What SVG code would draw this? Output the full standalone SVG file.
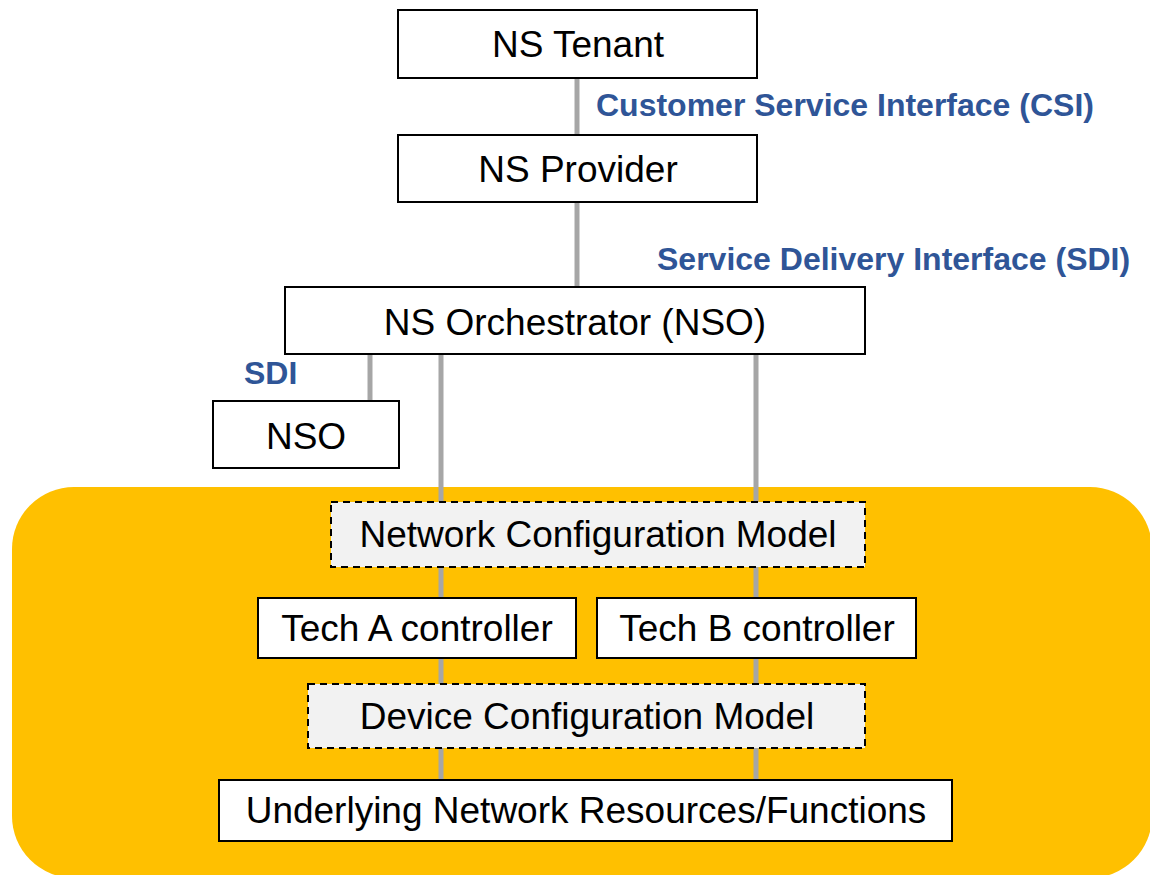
<svg xmlns="http://www.w3.org/2000/svg" width="1150" height="875" viewBox="0 0 1150 875">
<style>
.box{fill:#fff;stroke:#000;stroke-width:2}
.dash{fill:#f2f2f2;stroke:#000;stroke-width:2;stroke-dasharray:7 5}
.t{font-family:"Liberation Sans",Arial,sans-serif;font-size:37px;fill:#000;text-anchor:middle}
.lbl{font-family:"Liberation Sans",Arial,sans-serif;font-size:32px;font-weight:bold;fill:#2f5597}
.c{stroke:#a6a6a6;stroke-width:5;fill:none}
</style>
<rect id="domain" x="12" y="487" width="1140" height="391" rx="62" ry="62" fill="#ffc000"/>
<g id="connectors">
<line class="c" x1="577" y1="78" x2="577" y2="135"/>
<line class="c" x1="577" y1="202" x2="577" y2="287"/>
<line class="c" x1="370" y1="354" x2="370" y2="401"/>
<line class="c" x1="441" y1="354" x2="441" y2="780"/>
<line class="c" x1="756" y1="354" x2="756" y2="780"/>
</g>
<g id="labels">
<text class="lbl" x="596" y="116">Customer Service Interface (CSI)</text>
<text class="lbl" x="657" y="270">Service Delivery Interface (SDI)</text>
<text class="lbl" x="244" y="384">SDI</text>
</g>
<g id="tenant"><rect class="box" x="398" y="10" width="359" height="68"/><text class="t" x="578" y="57">NS Tenant</text></g>
<g id="provider"><rect class="box" x="398" y="135" width="359" height="67"/><text class="t" x="578" y="182">NS Provider</text></g>
<g id="orchestrator"><rect class="box" x="285" y="287" width="580" height="67"/><text class="t" x="575" y="335">NS Orchestrator (NSO)</text></g>
<g id="nso"><rect class="box" x="213" y="401" width="186" height="67"/><text class="t" x="306" y="449">NSO</text></g>
<g id="ncm"><rect class="dash" x="331" y="502" width="534" height="65"/><text class="t" x="598" y="547">Network Configuration Model</text></g>
<g id="techA"><rect class="box" x="258" y="598" width="318" height="60"/><text class="t" x="417" y="641">Tech A controller</text></g>
<g id="techB"><rect class="box" x="597" y="598" width="319" height="60"/><text class="t" x="757" y="641">Tech B controller</text></g>
<g id="dcm"><rect class="dash" x="308" y="684" width="557" height="64"/><text class="t" x="587" y="729">Device Configuration Model</text></g>
<g id="underlying"><rect class="box" x="219" y="780" width="733" height="61"/><text class="t" x="586" y="823">Underlying Network Resources/Functions</text></g>
</svg>
